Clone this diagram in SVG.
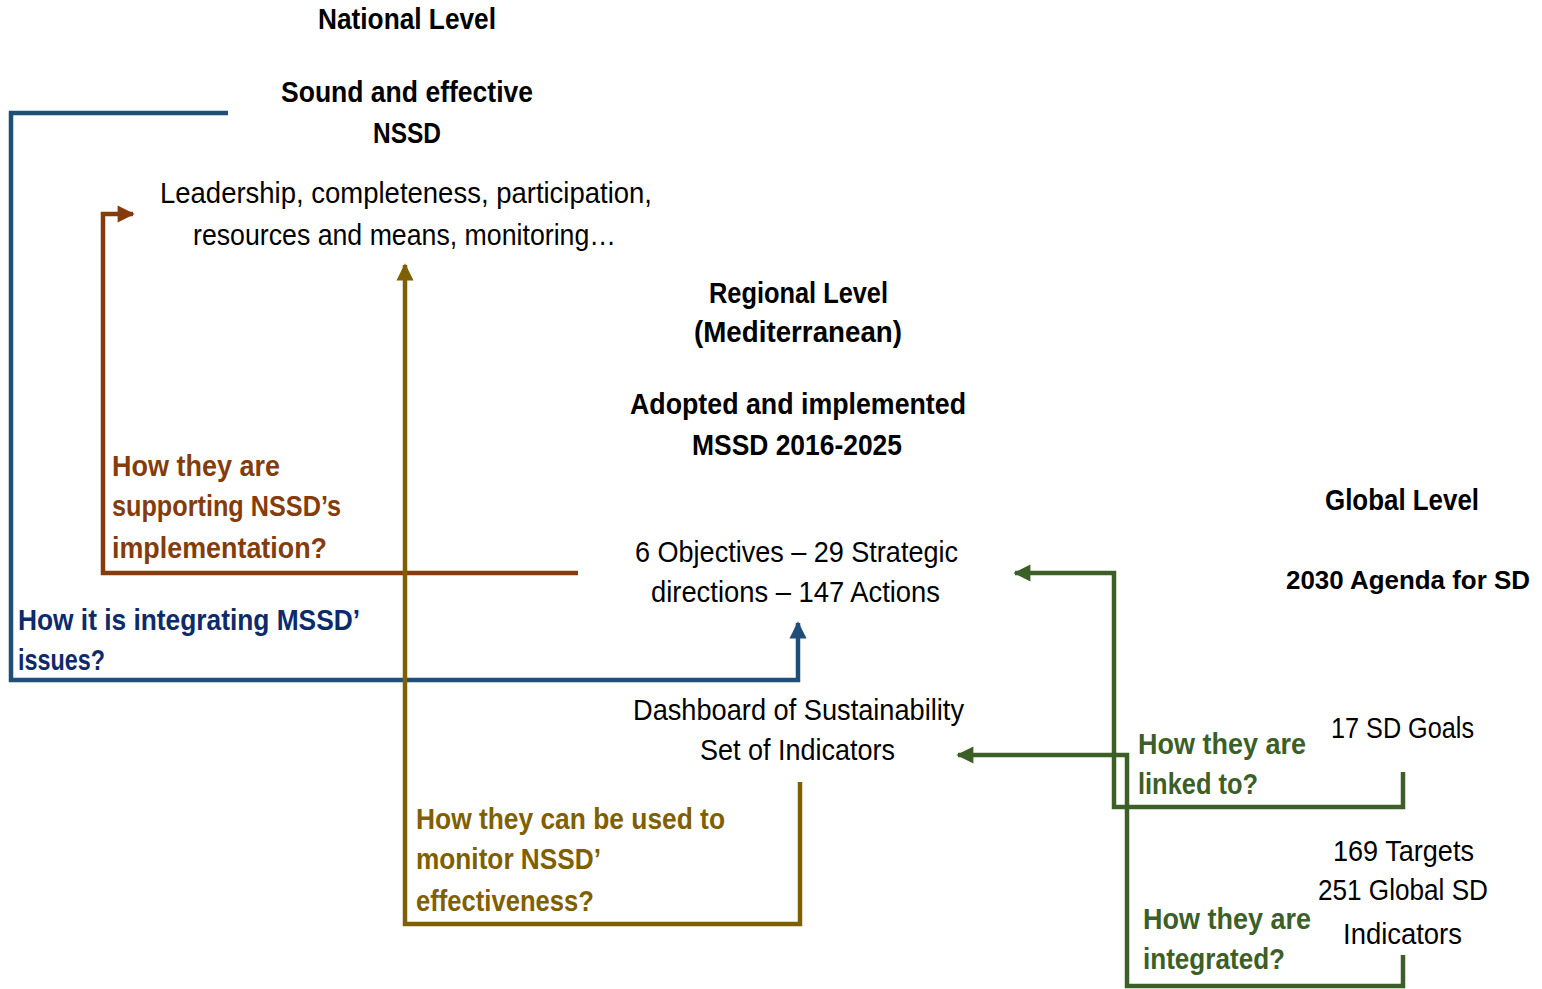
<svg xmlns="http://www.w3.org/2000/svg" width="1542" height="989" viewBox="0 0 1542 989">
<style>
text{font-family:"Liberation Sans",Arial,sans-serif;font-size:30px;}
.b{font-weight:bold;fill:#000;}
.n{fill:#000;}
.br{font-weight:bold;fill:#843C0C;}
.nv{font-weight:bold;fill:#0D2A6B;}
.ol{font-weight:bold;fill:#7F6000;}
.gr{font-weight:bold;fill:#3C5F27;}
.ln{fill:none;stroke-width:4.5;stroke-linejoin:miter;}
</style>
<defs>
<marker id="ab" viewBox="0 0 10 10" refX="9" refY="5" markerWidth="4" markerHeight="3.8" orient="auto" markerUnits="strokeWidth"><path d="M0,0 L10,5 L0,10 z" fill="#1F4E79"/></marker>
<marker id="abr" viewBox="0 0 10 10" refX="9" refY="5" markerWidth="4" markerHeight="3.8" orient="auto" markerUnits="strokeWidth"><path d="M0,0 L10,5 L0,10 z" fill="#843C0C"/></marker>
<marker id="aol" viewBox="0 0 10 10" refX="9" refY="5" markerWidth="4" markerHeight="3.8" orient="auto" markerUnits="strokeWidth"><path d="M0,0 L10,5 L0,10 z" fill="#7F6000"/></marker>
<marker id="agr" viewBox="0 0 10 10" refX="9" refY="5" markerWidth="4" markerHeight="3.8" orient="auto" markerUnits="strokeWidth"><path d="M0,0 L10,5 L0,10 z" fill="#3C5F27"/></marker>
</defs>
<rect width="1542" height="989" fill="#fff"/>
<g id="connectors">
<path class="ln" stroke="#1F4E79" d="M228,113 H11 V680 H798 V623" marker-end="url(#ab)"/>
<path class="ln" stroke="#843C0C" d="M578,573 H103 V214 H133" marker-end="url(#abr)"/>
<path class="ln" stroke="#7F6000" d="M800,782 V924 H405 V265" marker-end="url(#aol)"/>
<path class="ln" stroke="#3C5F27" d="M1403,772 V807 H1114 V573 H1015" marker-end="url(#agr)"/>
<path class="ln" stroke="#3C5F27" d="M1403,955 V986 H1127 V755 H958" marker-end="url(#agr)"/>
</g>
<g id="national">
<text class="b" x="318" y="29" textLength="178" lengthAdjust="spacingAndGlyphs">National Level</text>
<text class="b" x="281" y="102" textLength="252" lengthAdjust="spacingAndGlyphs">Sound and effective</text>
<text class="b" x="373" y="143" textLength="68" lengthAdjust="spacingAndGlyphs">NSSD</text>
<text class="n" x="160" y="203" textLength="492" lengthAdjust="spacingAndGlyphs">Leadership, completeness, participation,</text>
<text class="n" x="193" y="245" textLength="423" lengthAdjust="spacingAndGlyphs">resources and means, monitoring…</text>
</g>
<g id="regional">
<text class="b" x="709" y="303" textLength="179" lengthAdjust="spacingAndGlyphs">Regional Level</text>
<text class="b" x="694" y="342" textLength="208" lengthAdjust="spacingAndGlyphs">(Mediterranean)</text>
<text class="b" x="630" y="414" textLength="336" lengthAdjust="spacingAndGlyphs">Adopted and implemented</text>
<text class="b" x="692" y="455" textLength="210" lengthAdjust="spacingAndGlyphs">MSSD 2016-2025</text>
</g>
<g id="mssd-content">
<text class="n" x="635" y="562" textLength="323" lengthAdjust="spacingAndGlyphs">6 Objectives – 29 Strategic</text>
<text class="n" x="651" y="602" textLength="289" lengthAdjust="spacingAndGlyphs">directions – 147 Actions</text>
</g>
<g id="dashboard">
<text class="n" x="633" y="720" textLength="331" lengthAdjust="spacingAndGlyphs">Dashboard of Sustainability</text>
<text class="n" x="700" y="760" textLength="195" lengthAdjust="spacingAndGlyphs">Set of Indicators</text>
</g>
<g id="global">
<text class="b" x="1325" y="510" textLength="154" lengthAdjust="spacingAndGlyphs">Global Level</text>
<text class="b" x="1286" y="589" style="font-size:26px" textLength="244" lengthAdjust="spacingAndGlyphs">2030 Agenda for SD</text>
</g>
<g id="goals">
<text class="n" x="1331" y="738" textLength="143" lengthAdjust="spacingAndGlyphs">17 SD Goals</text>
</g>
<g id="targets">
<text class="n" x="1333" y="861" textLength="141" lengthAdjust="spacingAndGlyphs">169 Targets</text>
<text class="n" x="1318" y="900" textLength="170" lengthAdjust="spacingAndGlyphs">251 Global SD</text>
<text class="n" x="1343" y="944" textLength="119" lengthAdjust="spacingAndGlyphs">Indicators</text>
</g>
<g id="q-supporting">
<text class="br" x="112" y="476" textLength="168" lengthAdjust="spacingAndGlyphs">How they are</text>
<text class="br" x="112" y="516" textLength="229" lengthAdjust="spacingAndGlyphs">supporting NSSD’s</text>
<text class="br" x="112" y="558" textLength="215" lengthAdjust="spacingAndGlyphs">implementation?</text>
</g>
<g id="q-integrating">
<text class="nv" x="18" y="630" textLength="342" lengthAdjust="spacingAndGlyphs">How it is integrating MSSD’</text>
<text class="nv" x="18" y="670" textLength="87" lengthAdjust="spacingAndGlyphs">issues?</text>
</g>
<g id="q-monitor">
<text class="ol" x="416" y="829" textLength="309" lengthAdjust="spacingAndGlyphs">How they can be used to</text>
<text class="ol" x="416" y="869" textLength="185" lengthAdjust="spacingAndGlyphs">monitor NSSD’</text>
<text class="ol" x="416" y="911" textLength="178" lengthAdjust="spacingAndGlyphs">effectiveness?</text>
</g>
<g id="q-linked">
<text class="gr" x="1138" y="754" textLength="168" lengthAdjust="spacingAndGlyphs">How they are</text>
<text class="gr" x="1138" y="794" textLength="120" lengthAdjust="spacingAndGlyphs">linked to?</text>
</g>
<g id="q-integrated">
<text class="gr" x="1143" y="929" textLength="168" lengthAdjust="spacingAndGlyphs">How they are</text>
<text class="gr" x="1143" y="969" textLength="142" lengthAdjust="spacingAndGlyphs">integrated?</text>
</g>
</svg>
